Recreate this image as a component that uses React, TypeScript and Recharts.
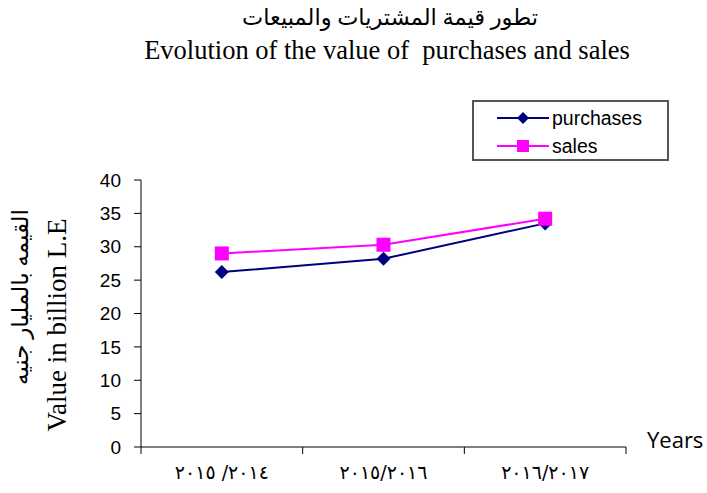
import React from 'react';
import { LineChart, Line, XAxis, YAxis } from 'recharts';

const years = ['٢٠١٥ /٢٠١٤', '٢٠١٥/٢٠١٦', '٢٠١٦/٢٠١٧'];
const purchases = [26.2, 28.2, 33.5];
const sales = [29.0, 30.3, 34.2];
const yTicks = [0, 5, 10, 15, 20, 25, 30, 35, 40];

const data = years.map((year, i) => ({ year, purchases: purchases[i], sales: sales[i] }));

const NAVY = '#000080';
const MAGENTA = '#ff00ff';
const PLOT_W = 485;
const HALF_BAND = PLOT_W / years.length / 2;

const Diamond = (props: any) => {
  const { cx, cy } = props;
  if (cx == null || cy == null) return null;
  const r = 7;
  return <path d={`M${cx},${cy - r}L${cx + r},${cy}L${cx},${cy + r}L${cx - r},${cy}Z`} fill={NAVY} />;
};

const Square = (props: any) => {
  const { cx, cy } = props;
  if (cx == null || cy == null) return null;
  const s = 7;
  return <rect x={cx - s} y={cy - s} width={s * 2} height={s * 2} fill={MAGENTA} />;
};

// tick marks sit on the category boundaries, labels in the middle
const YearTick = (props: any) => {
  const { x, y, payload, index } = props;
  return (
    <g>
      <line x1={x - HALF_BAND} y1={y - 8} x2={x - HALF_BAND} y2={y - 1} stroke="#000" />
      {index === years.length - 1 && (
        <line x1={x + HALF_BAND} y1={y - 8} x2={x + HALF_BAND} y2={y - 1} stroke="#000" />
      )}
      <text
        x={x}
        y={y + 24}
        textAnchor="middle"
        fontSize={19}
        fontFamily="'DejaVu Sans', serif"
        letterSpacing={6}
        fill="#000"
        style={{ direction: 'ltr', unicodeBidi: 'bidi-override' }}
      >
        {payload.value}
      </text>
    </g>
  );
};

const YLabel = () => (
  <g>
    <text
      transform="translate(28, 297) rotate(-90)"
      textAnchor="middle"
      fontSize={23}
      fontFamily="'Liberation Serif', 'DejaVu Sans', serif"
      fill="#000"
    >
      القيمه بالمليار جنيه
    </text>
    <text
      transform="translate(66, 325) rotate(-90)"
      textAnchor="middle"
      fontSize={27}
      fontFamily="'Liberation Serif', serif"
      fill="#000"
    >
      Value in billion L.E
    </text>
  </g>
);

const legendItems = [
  { name: 'purchases', color: NAVY, shape: 'diamond' },
  { name: 'sales', color: MAGENTA, shape: 'square' },
];

const LegendBox = () => (
  <div
    style={{
      position: 'absolute',
      left: 472,
      top: 100,
      width: 197,
      height: 61,
      border: '2px solid #555',
      background: '#fff',
      fontFamily: "'Liberation Sans', Arial, sans-serif",
      fontSize: 19.5,
      color: '#000',
      boxSizing: 'border-box',
    }}
  >
    {legendItems.map((item, i) => (
      <div key={item.name} style={{ position: 'absolute', left: 23, top: 5 + i * 28, display: 'flex', alignItems: 'center' }}>
        <svg width={52} height={16}>
          <line x1={0} y1={8} x2={52} y2={8} stroke={item.color} strokeWidth={2} />
          {item.shape === 'diamond' ? (
            <path d="M26,2L32,8L26,14L20,8Z" fill={item.color} />
          ) : (
            <rect x={20} y={2} width={12} height={12} fill={item.color} />
          )}
        </svg>
        <span style={{ marginLeft: 3, lineHeight: '22px' }}>{item.name}</span>
      </div>
    ))}
  </div>
);

export default function App() {
  return (
    <div style={{ position: 'absolute', left: 0, top: 0, width: 707, height: 493, background: '#fff' }}>
      <div
        style={{
          position: 'absolute',
          left: 0,
          width: 780,
          top: 3,
          textAlign: 'center',
          fontFamily: "'Liberation Serif', 'DejaVu Sans', serif",
          fontSize: 22.5,
          lineHeight: '30px',
        }}
      >
        تطور قيمة المشتريات والمبيعات
      </div>
      <div
        style={{
          position: 'absolute',
          left: 0,
          width: 774,
          top: 34,
          textAlign: 'center',
          fontFamily: "'Liberation Serif', serif",
          fontSize: 26.5,
          lineHeight: '32px',
          whiteSpace: 'pre',
        }}
      >
        {'Evolution of the value of  purchases and sales'}
      </div>
      <div
        style={{
          position: 'absolute',
          left: 647,
          top: 424,
          fontFamily: "'Open Sans', 'Liberation Sans', sans-serif",
          fontSize: 22,
          lineHeight: '30px',
        }}
      >
        Years
      </div>
      <LegendBox />
      <LineChart width={707} height={493} data={data} margin={{ top: 180, right: 81, left: 0, bottom: 0 }}>
        <XAxis
          dataKey="year"
          height={46}
          padding={{ left: HALF_BAND, right: HALF_BAND }}
          stroke="#000"
          tickLine={false}
          tick={<YearTick />}
          interval={0}
        />
        <YAxis
          width={141}
          domain={[0, 40]}
          ticks={yTicks}
          interval={0}
          stroke="#000"
          tickSize={7}
          tickMargin={13}
          tick={{ fill: '#000', fontSize: 19, fontFamily: "'Liberation Sans', Arial, sans-serif" }}
          label={<YLabel />}
        />
        <Line
          dataKey="purchases"
          stroke={NAVY}
          strokeWidth={2}
          dot={<Diamond />}
          activeDot={false}
          isAnimationActive={false}
        />
        <Line
          dataKey="sales"
          stroke={MAGENTA}
          strokeWidth={2}
          dot={<Square />}
          activeDot={false}
          isAnimationActive={false}
        />
      </LineChart>
    </div>
  );
}
